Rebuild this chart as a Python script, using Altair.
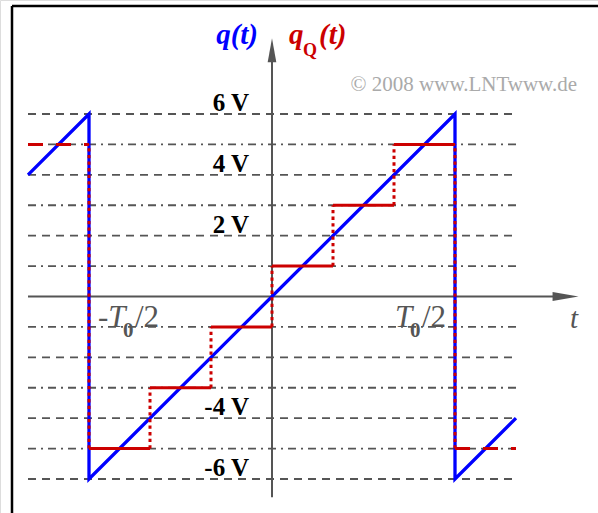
import altair as alt
import pandas as pd

# ---- data -----------------------------------------------------------------
# time in units of T0, amplitude in volts
saw_t = [-2/3, -1/2, -1/2, 1/2, 1/2, 2/3]      # sawtooth q(t) corner points
saw_q = [4, 6, -6, 6, -6, -4]

step_levels = [-5, -3, -1, 1, 3, 5]             # quantized values of qQ(t)
step_edges = [-1/2, -1/3, -1/6, 0, 1/6, 1/3, 1/2]

cont_t0 = [-2/3, 1/2]                           # qQ(t) outside the main period
cont_t1 = [-1/2, 2/3]
cont_q = [5, -5]

grid_dashed = [-6, -4, -2, 2, 4, 6]
grid_dashdot = [-5, -3, -1, 1, 3, 5]
grid_from, grid_to = -2/3, 2/3

volt_ticks = [6, 4, 2, -4, -6]
volt_text = ["6 V", "4 V", "2 V", "-4 V", "-6 V"]

# ---- layout ---------------------------------------------------------------
W, H = 598, 513
SERIF = "Liberation Serif"
GRAY = "#555555"
BLUE = "#0000ff"
RED = "#cc0000"

xs = alt.Scale(domain=[-0.5, 0.5], range=[89, 455])
ys = alt.Scale(domain=[-6, 6], range=[479, 114])

X_AXIS_END = 0.836      # arrow tip of the time axis (T0 units)
Y_AXIS_TOP = 8.5        # arrow tip of the amplitude axis (V)
Y_AXIS_BOTTOM = -6.6


def X(f="t"):
    return alt.X(f"{f}:Q", scale=xs, axis=None)


def Y(f="v"):
    return alt.Y(f"{f}:Q", scale=ys, axis=None)


# ---- tables ---------------------------------------------------------------
saw = pd.DataFrame({"t": saw_t, "v": saw_q, "o": range(len(saw_t))})

horiz = pd.DataFrame({
    "t": step_edges[:-1], "t2": step_edges[1:], "v": step_levels})

vert_t, vert_lo, vert_hi = [], [], []
for i, e in enumerate(step_edges):
    vert_t.append(e)
    if i == 0 or i == len(step_edges) - 1:
        vert_lo.append(step_levels[0]); vert_hi.append(step_levels[-1])
    else:
        vert_lo.append(step_levels[i - 1]); vert_hi.append(step_levels[i])
vert = pd.DataFrame({"t": vert_t, "v": vert_lo, "v2": vert_hi})

cont = pd.DataFrame({"t": cont_t0, "t2": cont_t1, "v": cont_q})

gd = pd.DataFrame({"v": grid_dashed, "t": grid_from, "t2": grid_to})
gdd = pd.DataFrame({"v": grid_dashdot, "t": grid_from, "t2": grid_to})

one = pd.DataFrame({"t": [0.0], "v": [0.0]})

# ---- layers ---------------------------------------------------------------
frame_left = alt.Chart(one).mark_rule(color="black", strokeWidth=2.5).encode(
    x=alt.value(12), y=alt.value(6), y2=alt.value(H))
frame_top = alt.Chart(one).mark_rule(color="black", strokeWidth=2.5).encode(
    x=alt.value(12), x2=alt.value(W), y=alt.value(6))

grid1 = alt.Chart(gd).mark_rule(color=GRAY, strokeWidth=1.8, strokeDash=[8, 6]).encode(
    x=X(), x2="t2:Q", y=Y())
grid2 = alt.Chart(gdd).mark_rule(color=GRAY, strokeWidth=1.8,
                                 strokeDash=[8, 5, 2, 5]).encode(
    x=X(), x2="t2:Q", y=Y())

x_axis = alt.Chart(pd.DataFrame({"t": [grid_from], "t2": [X_AXIS_END - 0.03], "v": [0]})
                   ).mark_rule(color=GRAY, strokeWidth=2).encode(x=X(), x2="t2:Q", y=Y())
y_axis = alt.Chart(pd.DataFrame({"t": [0], "v": [Y_AXIS_BOTTOM], "v2": [Y_AXIS_TOP - 0.4]})
                   ).mark_rule(color=GRAY, strokeWidth=2).encode(x=X(), y=Y(), y2="v2:Q")

up_arrow = alt.Chart(pd.DataFrame({"t": [0], "v": [Y_AXIS_TOP - 0.4]})).mark_point(
    shape="M0,-1L0.36,1L-0.36,1Z", size=576, filled=True, color=GRAY,
    opacity=1, strokeWidth=0).encode(x=X(), y=Y())
right_arrow = alt.Chart(pd.DataFrame({"t": [X_AXIS_END - 0.034], "v": [0]})).mark_point(
    shape="M1,0L-1,-0.34L-1,0.34Z", size=676, filled=True, color=GRAY,
    opacity=1, strokeWidth=0).encode(x=X(), y=Y())

blue = alt.Chart(saw).mark_line(color=BLUE, strokeWidth=3.3, strokeJoin="miter").encode(
    x=X(), y=Y(), order="o:Q")

red_h = alt.Chart(horiz).mark_rule(color=RED, strokeWidth=3).encode(
    x=X(), x2="t2:Q", y=Y())
red_v = alt.Chart(vert).mark_rule(color=RED, strokeWidth=3, strokeDash=[3.3, 3.3]).encode(
    x=X(), y=Y(), y2="v2:Q")
red_c = alt.Chart(cont).mark_rule(color=RED, strokeWidth=3, strokeDash=[15, 13]).encode(
    x=X(), x2="t2:Q", y=Y())


def label(df, **kw):
    base = dict(font=SERIF, baseline="alphabetic", align="left")
    base.update(kw)
    return alt.Chart(df).mark_text(**base).encode(x=X(), y=Y(), text="s:N")


volt_df = pd.DataFrame({"t": 0.0, "v": volt_ticks, "s": volt_text})
volt_lbl = label(volt_df, fontSize=25, fontWeight="bold", color="black",
                 align="right", dx=-23, dy=-3)

# -T0/2 and T0/2 under the time axis
tl = []
for t_pos, prefix, x_off in [(-0.5, "-", 9), (0.5, "", -60)]:
    d = pd.DataFrame({"t": [t_pos], "v": [0.0]})
    head = prefix + "T"
    tl.append(label(d.assign(s=head), fontSize=31, fontStyle="italic", color=GRAY,
                    dx=x_off, dy=30.5))
    shift = 10 if prefix else 0
    tl.append(label(d.assign(s="0"), fontSize=21, fontWeight="bold", color=GRAY,
                    dx=x_off + shift + 15, dy=40.5))
    tl.append(label(d.assign(s="/2"), fontSize=31, color=GRAY,
                    dx=x_off + shift + 27, dy=30.5))

t_lbl = label(pd.DataFrame({"t": [X_AXIS_END], "v": [0.0], "s": ["t"]}),
              fontSize=29, fontStyle="italic", color=GRAY, align="right",
              dx=0, dy=31.5)

top = pd.DataFrame({"t": [0.0], "v": [Y_AXIS_TOP]})
q_lbl = label(top.assign(s="q(t)"), fontSize=29, fontStyle="italic", fontWeight="bold",
              color=BLUE, align="right", dx=-14, dy=6)
qq1 = label(top.assign(s="q"), fontSize=29, fontStyle="italic", fontWeight="bold",
            color=RED, dx=17, dy=6)
qq2 = label(top.assign(s="Q"), fontSize=18, fontWeight="bold", color=RED, dx=31, dy=18)
qq3 = label(top.assign(s="(t)"), fontSize=29, fontStyle="italic", fontWeight="bold",
            color=RED, dx=47, dy=6)

copy = alt.Chart(one).mark_text(
    text="\u00a9 2008 www.LNTwww.de", font=SERIF, fontSize=21, color="#aaaaaa",
    align="right", baseline="alphabetic").encode(x=alt.value(577), y=alt.value(91))

chart = alt.layer(
    frame_left, frame_top, grid1, grid2, x_axis, y_axis, up_arrow, right_arrow,
    blue, red_h, red_c, red_v, volt_lbl, *tl, t_lbl, q_lbl, qq1, qq2, qq3, copy,
).properties(
    width=W, height=H, padding=0,
    autosize=alt.AutoSizeParams(type="none"),
).configure_view(stroke=None).configure(background="white")

chart.save("out.html", embed_options={"renderer": "svg", "actions": False})
